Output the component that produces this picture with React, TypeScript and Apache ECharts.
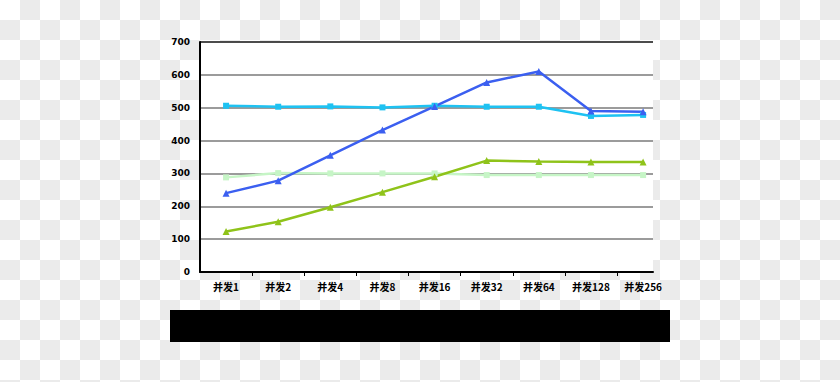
import React, { useEffect, useRef } from "react";
import * as echarts from "echarts";

const categories = ["并发1", "并发2", "并发4", "并发8", "并发16", "并发32", "并发64", "并发128", "并发256"];
const blueValues = [240, 278, 355, 432, 504, 577, 610, 490, 488];
const cyanValues = [506, 503, 504, 501, 506, 503, 503, 475, 478];
const limeValues = [123, 153, 197, 243, 290, 339, 336, 335, 335];
const paleValues = [288, 301, 300, 300, 300, 295, 295, 295, 295];
const yTicks = [0, 100, 200, 300, 400, 500, 600, 700];

export default function App() {
  const ref = useRef<HTMLDivElement>(null);
  useEffect(() => {
    document.body.style.margin = "0";
    if (!ref.current) return;
    const chart = echarts.init(ref.current, undefined, { renderer: "svg" });
    const toPairs = (arr: number[]) => arr.map((v, i) => [i + 0.5, v]);
    const bandMax = 8.69;
    const mk = (name: string, vals: number[], color: string, symbol: string) => ({
      name,
      type: "line",
      data: toPairs(vals),
      symbol,
      symbolSize: symbol === "rect" ? 6 : 7,
      showSymbol: true,
      lineStyle: { color, width: 2.5 },
      itemStyle: { color },
      z: 3,
    });
    chart.setOption({
      animation: false,
      grid: {
        left: 200,
        right: 187,
        top: 42,
        bottom: 110,
        show: true,
        backgroundColor: "#ffffff",
        borderWidth: 0,
      },
      xAxis: {
        type: "value",
        min: 0,
        max: bandMax,
        axisLine: { show: true, onZero: false, lineStyle: { color: "#000", width: 2 } },
        axisTick: {
          show: true,
          length: 4,
          customValues: [1, 2, 3, 4, 5, 6, 7, 8],
          lineStyle: { color: "#000", width: 1 },
        },
        splitLine: { show: false },
        axisLabel: {
          customValues: categories.map((_, i) => i + 0.5),
          formatter: (v: number) => categories[Math.floor(v)] ?? "",
          color: "#000",
          fontSize: 10,
          fontWeight: "bold",
          fontFamily: "Noto Sans CJK SC",
          margin: 9,
        },
      },
      yAxis: {
        type: "value",
        min: yTicks[0],
        max: yTicks[yTicks.length - 1],
        interval: 100,
        axisLine: { show: true, lineStyle: { color: "#000", width: 2 } },
        axisTick: { show: false },
        axisLabel: {
          color: "#000",
          fontSize: 9,
          fontWeight: "bold",
          fontFamily: "DejaVu Sans",
          margin: 10,
        },
        splitLine: {
          show: true,
          lineStyle: {
            color: ["#7a7a7a", "#7a7a7a", "#7a7a7a", "#7a7a7a", "#7a7a7a", "#7a7a7a", "#7a7a7a", "#111111"],
            width: 1.5,
          },
        },
      },
      series: [
        mk("系列4", paleValues, "#c6f5c6", "rect"),
        mk("系列3", limeValues, "#8fc31a", "triangle"),
        mk("系列2", cyanValues, "#1ec2f2", "rect"),
        mk("系列1", blueValues, "#3b5ff0", "triangle"),
      ],
      graphic: [
        {
          type: "rect",
          shape: { x: 170, y: 310, width: 500, height: 32 },
          style: { fill: "#000000" },
        },
      ],
    });
    return () => chart.dispose();
  }, []);
  return (
    <div
      ref={ref}
      style={{
        width: 840,
        height: 382,
        background: "repeating-conic-gradient(#ebebeb 0% 25%, #ffffff 0% 50%) 0 0 / 40px 40px",
      }}
    />
  );
}
